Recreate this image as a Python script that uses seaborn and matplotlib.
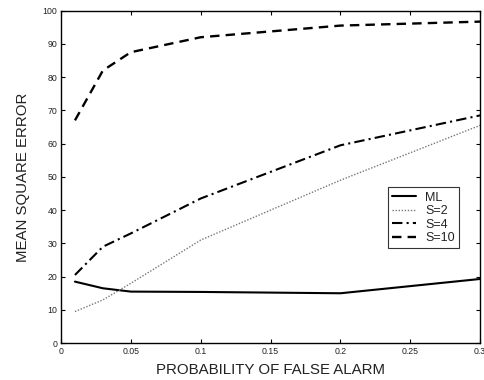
import matplotlib
matplotlib.use("Agg")
import matplotlib.pyplot as plt
import seaborn as sns
import pandas as pd

# False-alarm probabilities and mean square error per estimator
p_false_alarm = [0.01, 0.03, 0.05, 0.1, 0.2, 0.3]
mse_ml = [18.5, 16.5, 15.5, 15.4, 15.0, 19.3]
mse_s2 = [9.5, 13.0, 18.0, 31.0, 49.0, 65.5]
mse_s4 = [20.5, 29.0, 33.0, 43.5, 59.5, 68.5]
mse_s10 = [67.0, 82.0, 87.5, 92.0, 95.5, 96.7]

series_names = ["ML", "S=2", "S=4", "S=10"]
x_ticks = [0, 0.05, 0.1, 0.15, 0.2, 0.25, 0.3]
x_tick_labels = ["0", "0.05", "0.1", "0.15", "0.2", "0.25", "0.3"]
y_ticks = [0, 10, 20, 30, 40, 50, 60, 70, 80, 90, 100]

df = pd.DataFrame({
    "p": p_false_alarm * 4,
    "mse": mse_ml + mse_s2 + mse_s4 + mse_s10,
    "method": sum([[n] * len(p_false_alarm) for n in series_names], []),
})

sns.set_style("ticks")
plt.rcParams["font.family"] = ["Liberation Sans", "DejaVu Sans"]

fig = plt.figure(figsize=(4.84, 3.80), dpi=100)
ax = fig.add_axes([0.126, 0.097, 0.866, 0.875])

styles = {
    "ML": dict(ls="-", lw=1.5, color="black"),
    "S=2": dict(ls=(0, (1, 1.2)), lw=1.0, color="#777777"),
    "S=4": dict(ls=(0, (5, 2, 1, 2)), lw=1.5, color="black"),
    "S=10": dict(ls=(0, (4, 2.6)), lw=1.7, color="black"),
}

for name in series_names:
    sub = df[df["method"] == name]
    sns.lineplot(data=sub, x="p", y="mse", ax=ax, label=name,
                 linestyle=styles[name]["ls"], linewidth=styles[name]["lw"],
                 color=styles[name]["color"])

ax.set_xlim(0, 0.3)
ax.set_ylim(0, 100)
ax.set_xticks(x_ticks)
ax.set_xticklabels(x_tick_labels)
ax.set_yticks(y_ticks)
ax.tick_params(direction="in", length=3, width=0.8, labelsize=6.3,
               top=True, right=True, colors="black", labelcolor="#222222", pad=2.5)
for s in ax.spines.values():
    s.set_visible(True)
    s.set_linewidth(1.0)
    s.set_color("black")

ax.set_xlabel("PROBABILITY OF FALSE ALARM", fontsize=10.8, labelpad=5,
              color="#222222")
ax.set_ylabel("MEAN SQUARE ERROR", fontsize=10.8, labelpad=9, color="#222222")

leg = ax.legend(loc="upper left", bbox_to_anchor=(0.780, 0.469), fontsize=9,
                frameon=True, fancybox=False, handlelength=1.9,
                borderpad=0.35, labelspacing=0.12, handletextpad=0.75,
                borderaxespad=0)
leg.get_frame().set_edgecolor("black")
leg.get_frame().set_linewidth(0.8)
for t in leg.get_texts():
    t.set_color("#222222")

fig.savefig("out.png", dpi=100)
